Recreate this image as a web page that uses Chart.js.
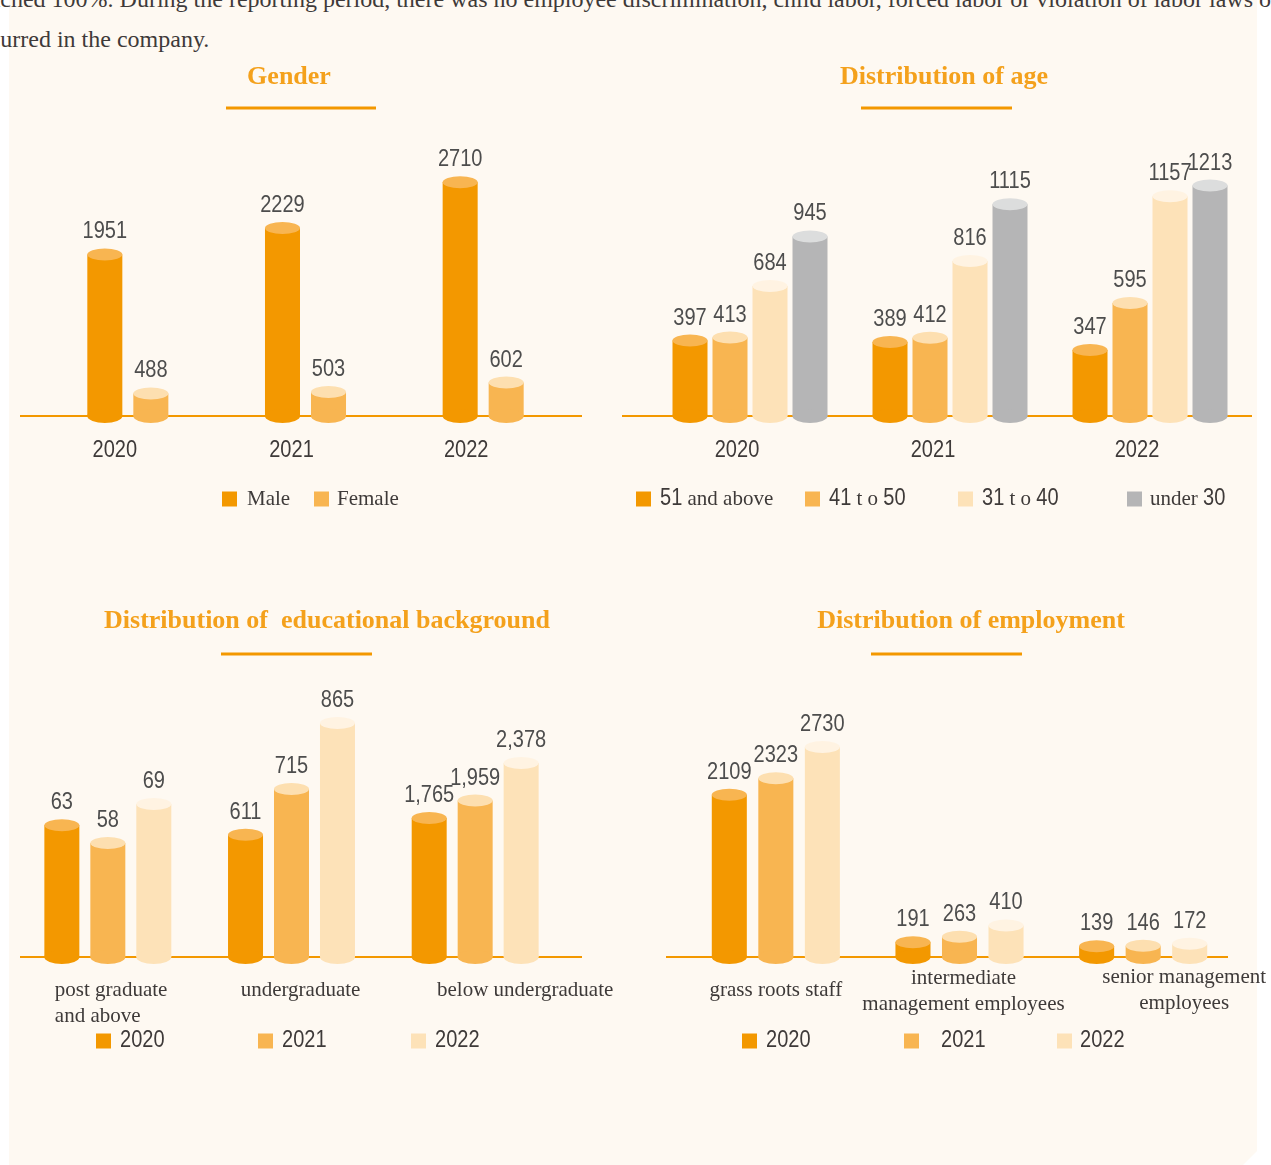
<!DOCTYPE html>
<html>
<head>
<meta charset="utf-8">
<script src="https://cdn.jsdelivr.net/npm/chart.js@4.4.0/dist/chart.umd.min.js"></script>
<style>
  body { margin: 0; width: 1271px; height: 1165px; position: relative; overflow: hidden; background: #fff; }
  .panel { position: absolute; left: 9px; top: 0; width: 1248px; height: 1165px; background: #fef9f2;
           clip-path: polygon(0 0, 100% 0, 100% calc(100% - 14px), calc(100% - 14px) 100%, 0 100%); }
  .intro { position: absolute; left: 0; width: 1271px; white-space: nowrap; overflow: hidden;
           font: 24px/40px "Liberation Serif", serif; color: #3e3a39; }
  .intro span { position: relative; }
  canvas { position: absolute; }
</style>
</head>
<body>
<div class="panel"></div>
<div class="intro" style="top:-21px"><span style="left:-29px">reached 100%. During the reporting period, there was no employee discrimination, child labor, forced labor or violation of labor laws or regulations</span></div>
<div class="intro" style="top:19px"><span style="left:-33px">occurred in the company.</span></div>

<canvas id="gender" width="630" height="500" style="left:0;top:50px"></canvas>
<canvas id="age" width="656" height="500" style="left:615px;top:50px"></canvas>
<canvas id="edu" width="640" height="500" style="left:0;top:590px"></canvas>
<canvas id="job" width="631" height="500" style="left:640px;top:590px"></canvas>

<script>
// Dados
const yearLabels = ['2020', '2021', '2022'];

const genderSeries = ['Male', 'Female'];
const genderMale = [1951, 2229, 2710];
const genderFemale = [488, 503, 602];

const ageSeries = ['51 and above', '41 t o 50', '31 t o 40', 'under 30'];
const age51Above = [397, 389, 347];
const age41to50 = [413, 412, 595];
const age31to40 = [684, 816, 1157];
const ageUnder30 = [945, 1115, 1213];

const eduCategories = [['post graduate', 'and above'], 'undergraduate', 'below undergraduate'];
const edu2020 = [63, 611, 1765];
const edu2021 = [58, 715, 1959];
const edu2022 = [69, 865, 2378];

const jobCategories = ['grass roots staff', ['intermediate', 'management employees'], ['senior management', 'employees']];
const job2020 = [2109, 191, 139];
const job2021 = [2323, 263, 146];
const job2022 = [2730, 410, 172];

// Estilo
const COLORS = ['#f39800', '#f8b551', '#fde2b8', '#b5b5b6'];
const TOPS = ['#f8b551', '#fddfb0', '#fff3e2', '#dcdddd'];
const NUM_FONT = '23px "Liberation Sans", Arial, sans-serif';
const NUM_SQUEEZE = 0.87; // numeros estreitos como no original
const WORD_FONT = '21px "Liberation Serif", serif';
const TITLE_FONT = 'bold 26px "Liberation Serif", serif';

const isNum = (p) => /\d/.test(p);

function partWidth(ctx, p) {
    ctx.font = isNum(p) ? NUM_FONT : WORD_FONT;
    return ctx.measureText(p).width * (isNum(p) ? NUM_SQUEEZE : 1);
}

function drawPart(ctx, p, x, y) {
    ctx.save();
    ctx.textAlign = 'left';
    ctx.translate(x, y);
    if (isNum(p)) {
        ctx.font = NUM_FONT;
        ctx.scale(NUM_SQUEEZE, 1);
    } else {
        ctx.font = WORD_FONT;
    }
    ctx.fillText(p, 0, 0);
    ctx.restore();
}

// texto com numeros em fonte sans e palavras em serif
function drawRuns(ctx, text, x, y, align) {
    const parts = text.match(/[\d,]+|[^\d,]+/g);
    if (align === 'center') {
        x -= parts.reduce((w, p) => w + partWidth(ctx, p), 0) / 2;
    }
    for (const p of parts) {
        drawPart(ctx, p, x, y);
        x += partWidth(ctx, p);
    }
}

const decorPlugin = {
    id: 'decor',
    beforeDatasetsDraw(chart, args, o) {
        const { ctx, chartArea } = chart;
        ctx.save();
        ctx.strokeStyle = '#f39800';
        ctx.lineWidth = 2;
        ctx.beginPath();
        ctx.moveTo(o.axisLine[0], chartArea.bottom);
        ctx.lineTo(o.axisLine[1], chartArea.bottom);
        ctx.stroke();
        ctx.restore();
    },
    afterDatasetsDraw(chart, args, o) {
        const { ctx, chartArea } = chart;
        ctx.save();
        chart.data.datasets.forEach((ds, i) => {
            chart.getDatasetMeta(i).data.forEach((bar, j) => {
                const v = ds.data[j];
                if (v == null) return;
                const rx = bar.width / 2;
                const base = Math.min(bar.base, chartArea.bottom);
                // fundo e tampa do cilindro
                ctx.fillStyle = ds.backgroundColor;
                ctx.beginPath();
                ctx.ellipse(bar.x, base, rx, 7, 0, 0, Math.PI * 2);
                ctx.fill();
                ctx.fillStyle = ds.topColor;
                ctx.beginPath();
                ctx.ellipse(bar.x, bar.y, rx, 6, 0, 0, Math.PI * 2);
                ctx.fill();
                // valor
                ctx.fillStyle = '#4d4d4d';
                ctx.textBaseline = 'alphabetic';
                drawRuns(ctx, o.commas ? v.toLocaleString('en-US') : String(v), bar.x, bar.y - 16, 'center');
            });
        });
        ctx.restore();
    },
    afterDraw(chart, args, o) {
        const ctx = chart.ctx;
        ctx.save();
        // titulo e sublinhado
        ctx.font = TITLE_FONT;
        ctx.fillStyle = '#f4a11c';
        ctx.textAlign = 'center';
        ctx.textBaseline = 'middle';
        ctx.fillText(o.title, o.titleX, o.titleY);
        ctx.fillStyle = '#f39800';
        ctx.fillRect(o.rule[0], o.ruleY - 1.5, o.rule[1] - o.rule[0], 3);

        // categorias
        ctx.fillStyle = '#3e3a39';
        const xScale = chart.scales.x;
        chart.data.labels.forEach((label, i) => {
            const lines = Array.isArray(label) ? label : [label];
            const x = xScale.getPixelForValue(i) + o.tickDx[i];
            lines.forEach((line, k) => drawRuns(ctx, line, x, o.tickY[i] + k * 26, o.tickAlign[i]));
        });

        // legenda
        o.names.forEach((name, i) => {
            ctx.fillStyle = COLORS[i];
            ctx.fillRect(o.legendBoxX[i], o.legendY - 7.5, 15, 15);
            ctx.fillStyle = '#3e3a39';
            drawRuns(ctx, name, o.legendTextX[i], o.legendY, 'left');
        });
        ctx.restore();
    }
};

function barOptions(padding, scales, decor, cp, bp) {
    return {
        responsive: false,
        animation: false,
        layout: { padding: padding },
        plugins: {
            legend: { display: false },
            tooltip: { enabled: false },
            decor: decor
        },
        datasets: {
            bar: { categoryPercentage: cp, barPercentage: bp, skipNull: true }
        },
        scales: Object.assign({ x: { display: false } }, scales)
    };
}

function seriesDatasets(names, values) {
    return values.map((data, i) => ({
        label: names[i],
        data: data,
        backgroundColor: COLORS[i],
        topColor: TOPS[i]
    }));
}

// Genero
new Chart(document.getElementById('gender'), {
    type: 'bar',
    data: { labels: yearLabels, datasets: seriesDatasets(genderSeries, [genderMale, genderFemale]) },
    options: barOptions(
        { left: 39, right: 58, top: 100, bottom: 134 },
        { y: { display: false, min: 250, max: 3050 } },
        {
            title: 'Gender', titleX: 289, titleY: 27, rule: [226, 376], ruleY: 58,
            axisLine: [20, 582],
            tickDx: [-13, -14, -17], tickY: [401, 401, 401], tickAlign: ['center', 'center', 'center'],
            names: genderSeries, legendBoxX: [222, 314], legendTextX: [247, 337], legendY: 449
        },
        0.518, 0.761
    ),
    plugins: [decorPlugin]
});

// Idade
new Chart(document.getElementById('age'), {
    type: 'bar',
    data: { labels: yearLabels, datasets: seriesDatasets(ageSeries, [age51Above, age41to50, age31to40, ageUnder30]) },
    options: barOptions(
        { left: 35, right: 21, top: 100, bottom: 134 },
        { y: { display: false, min: 0, max: 1400 } },
        {
            title: 'Distribution of age', titleX: 329, titleY: 27, rule: [246, 397], ruleY: 58,
            axisLine: [7, 637],
            tickDx: [-13, -17, -13], tickY: [401, 401, 401], tickAlign: ['center', 'center', 'center'],
            names: ageSeries, legendBoxX: [21, 190, 343, 512], legendTextX: [45, 214, 367, 535], legendY: 449
        },
        0.8, 0.875
    ),
    plugins: [decorPlugin]
});

// Escolaridade: cada categoria tem seu proprio eixo
const eduDatasets = [];
[edu2020, edu2021, edu2022].forEach((vals, s) => {
    vals.forEach((v, c) => {
        eduDatasets.push({
            label: yearLabels[s],
            data: vals.map((_, k) => (k === c ? v : null)),
            yAxisID: 'y' + c,
            backgroundColor: COLORS[s],
            topColor: TOPS[s]
        });
    });
});

new Chart(document.getElementById('edu'), {
    type: 'bar',
    data: { labels: eduCategories, datasets: eduDatasets },
    options: barOptions(
        { left: 16, right: 73, top: 100, bottom: 133 },
        {
            y0: { display: false, min: 26, max: 101 },
            y1: { display: false, min: 333, max: 940 },
            y2: { display: false, min: 215, max: 3192 }
        },
        {
            title: 'Distribution of  educational background', titleX: 327, titleY: 31, rule: [221, 372], ruleY: 64,
            axisLine: [20, 582], commas: true,
            tickDx: [-53, 9, 50], tickY: [400, 400, 400], tickAlign: ['left', 'center', 'center'],
            names: yearLabels, legendBoxX: [96, 258, 411], legendTextX: [120, 282, 435], legendY: 451
        },
        0.751, 0.761
    ),
    plugins: [decorPlugin]
});

// Cargo
new Chart(document.getElementById('job'), {
    type: 'bar',
    data: { labels: jobCategories, datasets: seriesDatasets(yearLabels, [job2020, job2021, job2022]) },
    options: barOptions(
        { left: 44, right: 36, top: 100, bottom: 133 },
        { y: { display: false, min: 0, max: 3470 } },
        {
            title: 'Distribution of employment', titleX: 331, titleY: 31, rule: [231, 382], ruleY: 64,
            axisLine: [26, 588],
            tickDx: [0, 4, 41], tickY: [400, 388, 387], tickAlign: ['center', 'center', 'center'],
            names: yearLabels, legendBoxX: [102, 264, 417], legendTextX: [126, 301, 440], legendY: 451
        },
        0.76, 0.753
    ),
    plugins: [decorPlugin]
});
</script>
</body>
</html>
